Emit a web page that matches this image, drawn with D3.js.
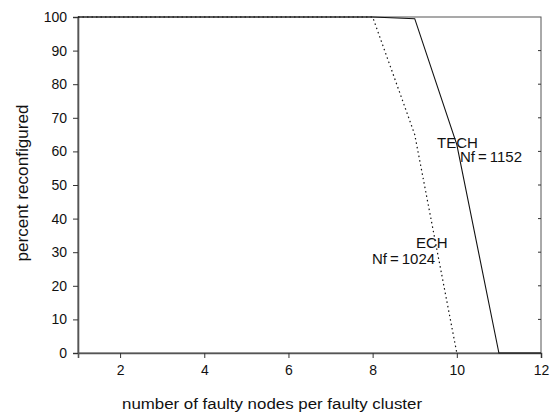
<!DOCTYPE html>
<html>
<head>
<meta charset="utf-8">
<script src="https://cdn.jsdelivr.net/npm/d3@7"></script>
<style>
  body { margin: 0; background: #fff; }
  text { font-family: "Liberation Sans", Arial, sans-serif; fill: #111; }
</style>
</head>
<body>
<svg width="552" height="413"></svg>
<script>
// faulty nodes per cluster vs percent reconfigured
var echX = [1, 2, 3, 4, 5, 6, 7, 8, 9, 10];
var echY = [100, 100, 100, 100, 100, 100, 100, 100, 65, 0];
var techX = [1, 2, 3, 4, 5, 6, 7, 8, 9, 10, 11, 12];
var techY = [100, 100, 100, 100, 100, 100, 100, 100, 99.5, 62, 0, 0];
var xTicks = [2, 4, 6, 8, 10, 12];
var yTicks = [0, 10, 20, 30, 40, 50, 60, 70, 80, 90, 100];

var svg = d3.select("svg");
var m = {left: 78, right: 541, top: 17, bottom: 353};

var x = d3.scaleLinear().domain([1, 12]).range([m.left, m.right]);
var y = d3.scaleLinear().domain([0, 100]).range([m.bottom, m.top]);

// frame
svg.append("rect")
    .attr("x", m.left).attr("y", m.top)
    .attr("width", m.right - m.left).attr("height", m.bottom - m.top)
    .attr("fill", "none").attr("stroke", "#555").attr("stroke-width", 1);

var xAxis = svg.append("g")
    .attr("transform", "translate(0," + m.bottom + ")")
    .call(d3.axisBottom(x).tickValues(xTicks).tickSize(5).tickPadding(7));
var yAxis = svg.append("g")
    .attr("transform", "translate(" + m.left + ",0)")
    .call(d3.axisLeft(y).tickValues(yTicks).tickSize(5).tickPadding(6));

[xAxis, yAxis].forEach(function(g) {
  g.select(".domain").attr("stroke", "#555").attr("stroke-width", 1.6);
  g.selectAll(".tick line").attr("stroke", "#333");
  g.selectAll(".tick text").attr("font-size", 14).attr("fill", "#111")
    .attr("font-family", "Liberation Sans, Arial, sans-serif");
});

// small inward ticks on right border
svg.append("g").selectAll("line")
    .data(yTicks.slice(1, -1))
    .enter().append("line")
      .attr("x1", m.right - 3).attr("x2", m.right)
      .attr("y1", function(d) { return y(d); })
      .attr("y2", function(d) { return y(d); })
      .attr("stroke", "#333");

var line = d3.line()
    .x(function(d) { return x(d[0]); })
    .y(function(d) { return y(d[1]); });

svg.append("path")
    .datum(techX.map(function(v, i) { return [v, techY[i]]; }))
    .attr("d", line)
    .attr("fill", "none").attr("stroke", "#111").attr("stroke-width", 1.1);

svg.append("path")
    .datum(echX.map(function(v, i) { return [v, echY[i]]; }))
    .attr("d", line)
    .attr("fill", "none").attr("stroke", "#111").attr("stroke-width", 1.2)
    .attr("stroke-dasharray", "1.5,3");

// labels
svg.append("text").attr("x", 437).attr("y", 148).attr("font-size", 15).text("TECH");
svg.append("text").attr("x", 460).attr("y", 162).attr("font-size", 15).text("Nf\u2009=\u20091152");
svg.append("text").attr("x", 416).attr("y", 248).attr("font-size", 15).text("ECH");
svg.append("text").attr("x", 372).attr("y", 264).attr("font-size", 15).text("Nf\u2009=\u20091024");

svg.append("text")
    .attr("transform", "translate(28,183) rotate(-90)")
    .attr("text-anchor", "middle").attr("font-size", 16)
    .attr("textLength", 157).attr("lengthAdjust", "spacingAndGlyphs")
    .text("percent reconfigured");

svg.append("text")
    .attr("x", 272).attr("y", 409)
    .attr("text-anchor", "middle").attr("font-size", 15.5)
    .attr("textLength", 300).attr("lengthAdjust", "spacingAndGlyphs")
    .text("number of faulty nodes per faulty cluster");
</script>
</body>
</html>
